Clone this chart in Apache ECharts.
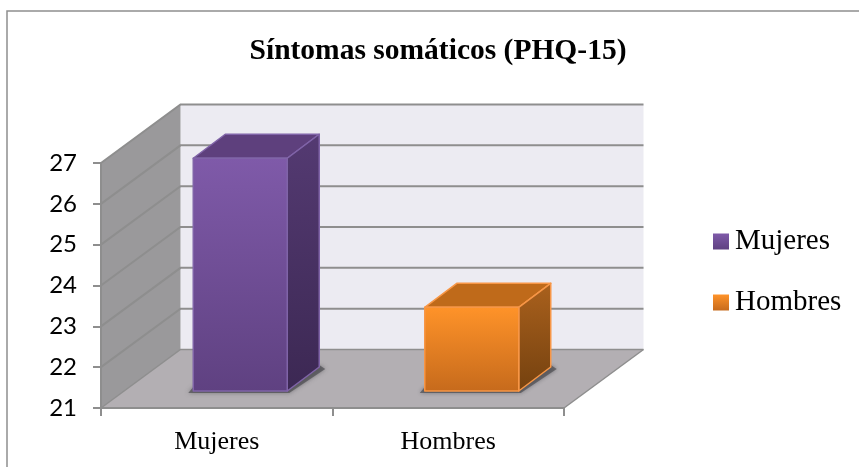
<!DOCTYPE html>
<html>
<head>
<meta charset="utf-8">
<style>
html, body { margin: 0; padding: 0; background: #fff; }
#chart { width: 859px; height: 467px; }
</style>
<script src="https://cdn.jsdelivr.net/npm/echarts@6/dist/echarts.min.js"></script>
</head>
<body>
<div id="chart"></div>
<script>
var categories = ['Mujeres', 'Hombres'];
var mujeresValues = [26.7];
var hombresValues = [23.05];
var yTicks = [21, 22, 23, 24, 25, 26, 27];

// 3D look: offset of the back wall and of the bar's front face
var WALL_DX = 79.5, WALL_DY = 58.5;
var BAR_DX = 23.5, BAR_DY = 17;
var DEPTH_DX = 32, DEPTH_DY = 24;
var BAR_WIDTH = 94;

var chart = echarts.init(document.getElementById('chart'));

function vGrad(a, b) {
    return new echarts.graphic.LinearGradient(0, 0, 0, 1, [
        { offset: 0, color: a },
        { offset: 1, color: b }
    ]);
}

function poly(points, fill, extra) {
    return {
        type: 'polygon',
        shape: { points: points },
        style: Object.assign({ fill: fill }, extra || {})
    };
}

var GRID_LINE = '#8e8e8e';

// walls and floor
function renderWalls(params, api) {
    var cs = params.coordSys;
    var x0 = cs.x, x1 = cs.x + cs.width;
    var y0 = cs.y, y1 = cs.y + cs.height;
    var dx = WALL_DX, dy = WALL_DY;
    var edge = { stroke: GRID_LINE, lineWidth: 1.5 };
    var children = [
        poly([[x0 + dx, y0 - dy], [x1 + dx, y0 - dy], [x1 + dx, y1 - dy], [x0 + dx, y1 - dy]], '#ecebf2'),
        poly([[x0, y0], [x0 + dx, y0 - dy], [x0 + dx, y1 - dy], [x0, y1]], '#9a999b'),
        poly([[x0, y1], [x0 + dx, y1 - dy], [x1 + dx, y1 - dy], [x1, y1]], '#b3afb3')
    ];
    yTicks.forEach(function (v) {
        var y = api.coord([0, v])[1];
        var lw = v === 21 ? 1.5 : 2;
        children.push({
            type: 'polyline',
            shape: { points: [[x0, y], [x0 + dx, y - dy], [x1 + dx, y - dy]] },
            style: { fill: null, stroke: GRID_LINE, lineWidth: lw }
        });
    });
    children.push({
        type: 'line',
        shape: { x1: x1, y1: y1, x2: x1 + dx, y2: y1 - dy },
        style: edge
    });
    return { type: 'group', children: children };
}

// one 3D bar
function makeBarRender(faces) {
    return function (params, api) {
        var top = api.coord([api.value(0), api.value(1)]);
        var base = api.coord([api.value(0), yTicks[0]]);
        var left = top[0] + BAR_DX - BAR_WIDTH / 2;
        var right = left + BAR_WIDTH;
        var yt = top[1] - BAR_DY;
        var yb = base[1] - BAR_DY;
        var dx = DEPTH_DX, dy = DEPTH_DY;
        var line = { stroke: faces.line, lineWidth: 1.5, lineJoin: 'round' };
        return {
            type: 'group',
            children: [
                poly([[left - 5, yb + 2], [right + 2, yb + 2], [right + dx + 6, yb - dy + 2], [right + dx, yb - dy - 2], [right, yb - 4], [left, yb - 4]],
                    'rgba(70,70,75,0.65)', { shadowBlur: 4, shadowColor: 'rgba(70,70,75,0.8)' }),
                poly([[left, yt], [left + dx, yt - dy], [right + dx, yt - dy], [right, yt]], faces.top, line),
                poly([[right, yt], [right + dx, yt - dy], [right + dx, yb - dy], [right, yb]], faces.side, line),
                poly([[left, yt], [right, yt], [right, yb], [left, yb]], faces.front, line)
            ]
        };
    };
}

var mujeresFaces = {
    front: vGrad('#7f5aa9', '#5f4181'),
    side: vGrad('#543a72', '#3c2853'),
    top: '#5e407d',
    line: '#8064a8'
};
var hombresFaces = {
    front: vGrad('#ff9329', '#c66a1c'),
    side: vGrad('#aa611d', '#74410f'),
    top: '#bf6a1a',
    line: '#f79646'
};

var option = {
    animation: false,
    backgroundColor: '#fff',
    title: {
        text: 'Síntomas somáticos (PHQ-15)',
        left: 433,
        top: 31,
        textAlign: 'center',
        textStyle: {
            fontFamily: 'Liberation Serif',
            fontWeight: 'bold',
            fontSize: 29.5,
            color: '#000'
        }
    },
    legend: {
        data: ['Mujeres', 'Hombres'],
        orient: 'vertical',
        left: 708,
        top: 222,
        itemWidth: 16,
        itemHeight: 16,
        itemGap: 32,
        icon: 'rect',
        textStyle: {
            fontFamily: 'Liberation Serif',
            fontSize: 29,
            color: '#000',
            padding: [0, 0, 0, 1]
        },
        selectedMode: false
    },
    grid: {
        left: 101,
        right: 295,
        top: 163,
        bottom: 59
    },
    xAxis: {
        type: 'category',
        data: categories,
        axisLine: { show: true, lineStyle: { color: GRID_LINE, width: 2 } },
        axisTick: { show: true, alignWithLabel: false, length: 8, lineStyle: { color: GRID_LINE, width: 2 } },
        axisLabel: {
            fontFamily: 'Liberation Serif',
            fontSize: 26,
            color: '#000',
            margin: 21
        },
        z: 5
    },
    yAxis: {
        type: 'value',
        min: 21,
        max: 27,
        interval: 1,
        splitLine: { show: false },
        axisLine: { show: true, lineStyle: { color: GRID_LINE, width: 2 } },
        axisTick: { show: true, length: 8, lineStyle: { color: GRID_LINE, width: 2 } },
        axisLabel: {
            fontFamily: 'Lato',
            fontSize: 24,
            color: '#000',
            margin: 24,
            padding: [3, 0, 0, 0]
        },
        z: 5
    },
    graphic: [{
        type: 'rect',
        silent: true,
        z: -1,
        shape: { x: 7, y: 11, width: 860, height: 470 },
        style: { fill: null, stroke: '#8f8f8f', lineWidth: 1.5 }
    }],
    series: [
        {
            type: 'custom',
            name: 'walls',
            silent: true,
            z: 1,
            data: [[0]],
            clip: false,
            encode: { x: 0 },
            renderItem: renderWalls
        },
        {
            type: 'custom',
            name: 'Mujeres',
            silent: true,
            z: 2,
            clip: false,
            itemStyle: { color: vGrad('#7f5aa9', '#5f4181') },
            data: mujeresValues.map(function (v) { return [0, v]; }),
            encode: { x: 0, y: 1 },
            renderItem: makeBarRender(mujeresFaces)
        },
        {
            type: 'custom',
            name: 'Hombres',
            silent: true,
            z: 2,
            clip: false,
            itemStyle: { color: vGrad('#ff9329', '#c66a1c') },
            data: hombresValues.map(function (v) { return [1, v]; }),
            encode: { x: 0, y: 1 },
            renderItem: makeBarRender(hombresFaces)
        }
    ]
};

chart.setOption(option);
</script>
</body>
</html>
